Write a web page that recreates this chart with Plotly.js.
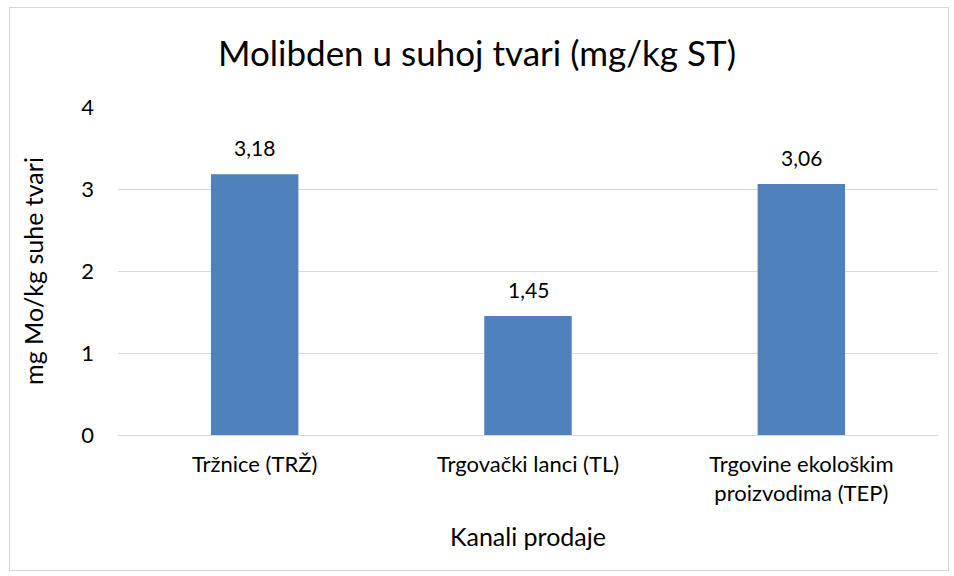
<!DOCTYPE html>
<html><head><meta charset="utf-8">
<script src="https://cdn.plot.ly/plotly-3.0.1.min.js"></script>
<style>
body{margin:0;background:#fff;}
#wrap{position:relative;width:954px;height:576px;}
#chart{width:954px;height:576px;}
#frame{position:absolute;left:9px;top:7px;width:938px;height:562px;border:1px solid #d9d9d9;pointer-events:none;}
</style></head>
<body><div id="wrap"><div id="chart"></div><div id="frame"></div></div>
<script>
const categories = ["Tržnice (TRŽ)", "Trgovački lanci (TL)", "Trgovine ekološkim<br>proizvodima (TEP)"];
const values = [3.18, 1.45, 3.06];
const labels = ["3,18", "1,45", "3,06"];
const yTicks = [0, 1, 2, 3, 4];

const font = "Lato, 'Open Sans', sans-serif";
Plotly.newPlot('chart', [{
  type: 'bar',
  x: categories,
  y: values,
  marker: {color: '#4F81BD'},
  hoverinfo: 'none'
}], {
  width: 954, height: 576,
  separators: ', ',
  margin: {l: 118, r: 16, t: 107, b: 141},
  paper_bgcolor: '#fff', plot_bgcolor: '#fff',
  font: {family: font, size: 22, color: '#000'},
  title: {text: 'Molibden u suhoj tvari (mg/kg ST)', font: {size: 35, family: font, color: '#000'}, x: 0.5, xanchor: 'center', y: 0.906, yanchor: 'middle', yref: 'container'},
  bargap: 0.68,
  annotations: categories.map((c, i) => ({
    x: c, y: values[i], text: labels[i], showarrow: false,
    xref: 'x', yref: 'y', yanchor: 'bottom', yshift: 12,
    font: {size: 21, family: font, color: '#000'}
  })),
  xaxis: {
    showline: true, linecolor: '#d9d9d9', linewidth: 1,
    ticks: '', tickfont: {size: 22}, ticklabelstandoff: 10,
    title: {text: 'Kanali prodaje', font: {size: 25}, standoff: 23}
  },
  yaxis: {
    range: [0, 4], tickvals: yTicks, ticktext: yTicks.map(String),
    gridcolor: '#d9d9d9', gridwidth: 1, zeroline: false, showline: false,
    ticks: '', ticklen: 0, tickfont: {size: 22}, ticklabelstandoff: 23,
    title: {text: 'mg Mo/kg suhe tvari', font: {size: 25}, standoff: 30}
  },
  showlegend: false
}, {displayModeBar: false, staticPlot: true});
</script></body></html>
